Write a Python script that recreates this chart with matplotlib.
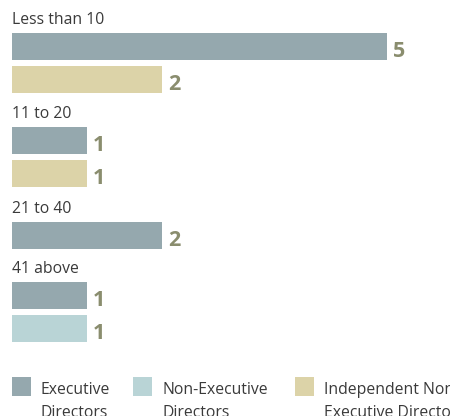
import matplotlib
matplotlib.use("Agg")
import matplotlib.pyplot as plt
from matplotlib.patches import Rectangle

categories = ["Less than 10", "11 to 20", "21 to 40", "41 above"]
series_names = ["Executive\nDirectors", "Non-Executive\nDirectors", "Independent Non-\nExecutive Directors"]
executive = [5, 1, 2, 1]
non_executive = [0, 0, 0, 1]
independent = [2, 1, 0, 0]

colors = ["#95A8AE", "#B9D4D6", "#DCD3A8"]
value_color = "#8A8D6E"
text_color = "#3A3A3A"

W, H = 450, 416
fig = plt.figure(figsize=(W / 100, H / 100), dpi=100)
ax = fig.add_axes([0, 0, 1, 1])
px_per_unit = 75.0
x0 = 12
ax.set_xlim(-x0 / px_per_unit, (W - x0) / px_per_unit)
ax.set_ylim(H, 0)
ax.axis("off")

font = "Open Sans"
label_size = 11.3
value_size = 15.5

label_base = [24, 118, 213, 273]
bar_h = 27
bar_gap = 6
first_bar_offset = 9

all_series = [executive, non_executive, independent]
for ci, cat in enumerate(categories):
    ax.text(0, label_base[ci], cat, fontsize=label_size, family=font,
            color=text_color, va="baseline", ha="left")
    top = label_base[ci] + first_bar_offset
    for si, series in enumerate(all_series):
        v = series[ci]
        if v <= 0:
            continue
        ax.barh(top + bar_h / 2, v, height=bar_h, left=0, color=colors[si],
                edgecolor="none")
        ax.text(v + 6 / px_per_unit, top + bar_h - 3, str(v),
                fontsize=value_size, family=font, fontweight="bold",
                color=value_color, va="baseline", ha="left")
        top += bar_h + bar_gap

leg_x = [0, 121, 283]
for si, name in enumerate(series_names):
    lx = leg_x[si]
    ax.add_patch(Rectangle((lx / px_per_unit, 377), 19 / px_per_unit, 19,
                           facecolor=colors[si], edgecolor="none", clip_on=False))
    line1, line2 = name.split("\n")
    ax.text((lx + 29) / px_per_unit, 394, line1, fontsize=label_size,
            family=font, color=text_color, va="baseline", ha="left")
    ax.text((lx + 29) / px_per_unit, 417, line2, fontsize=label_size,
            family=font, color=text_color, va="baseline", ha="left")

fig.savefig("out.png", dpi=100)
